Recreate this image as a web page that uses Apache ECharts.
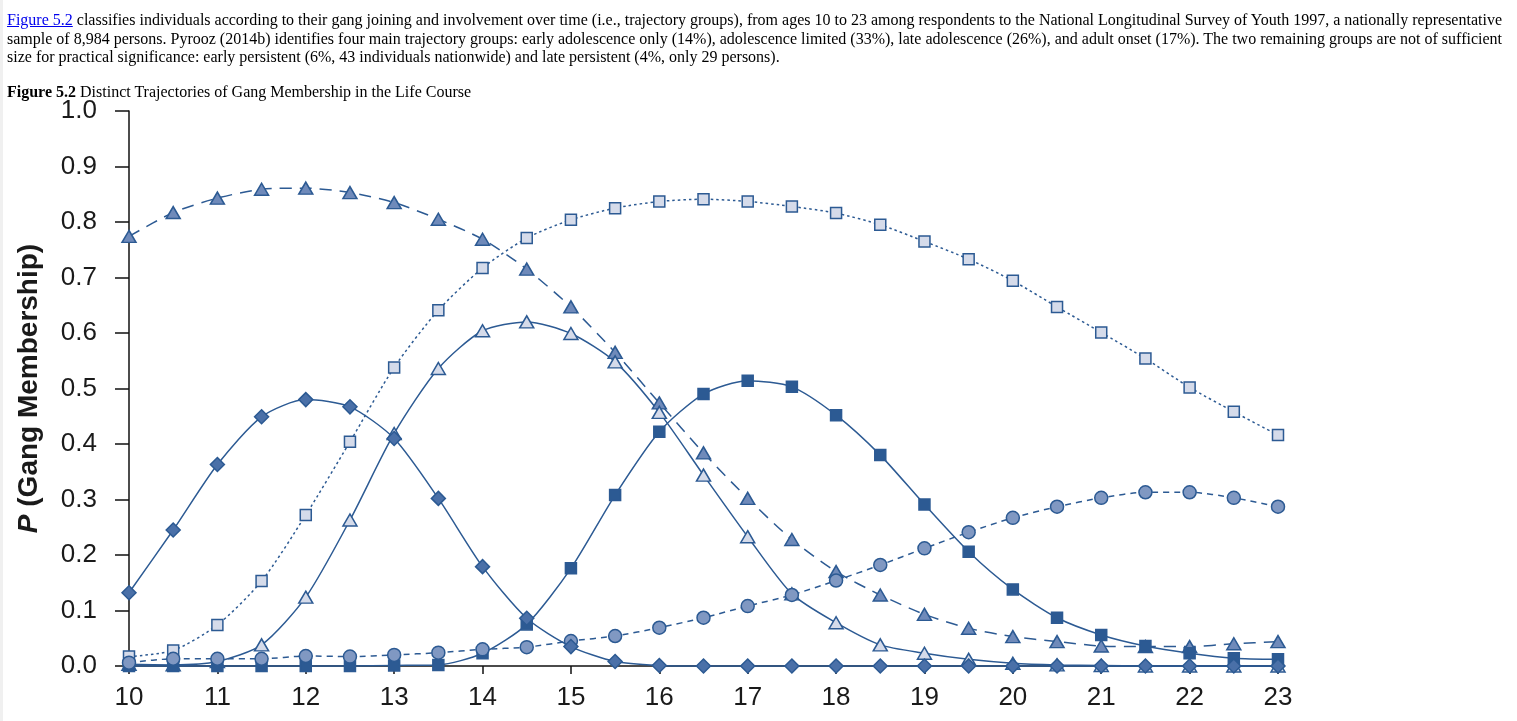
<!DOCTYPE html>
<html>
<head>
<meta charset="utf-8">
<title>Figure 5.2</title>
<script src="https://cdn.jsdelivr.net/npm/echarts@6/dist/echarts.min.js"></script>
<style>
    html, body { margin: 0; padding: 0; background: #fff; }
    body { width: 1517px; height: 721px; overflow: hidden; position: relative; }
    .edge { position: absolute; left: 0; top: 0; width: 3px; height: 721px; background: #f0f0f0; }
    .text { position: absolute; left: 7px; top: 11px; width: 1495px; z-index: 2;
            font-family: "Liberation Serif", "Times New Roman", serif; font-size: 16px; line-height: 18.5px; color: #000; }
    .text .j { text-align: justify; text-align-last: justify; }
    .text a { color: #0000ee; text-decoration: underline; }
    .caption { position: absolute; left: 7px; top: 83px; z-index: 2;
               font-family: "Liberation Serif", "Times New Roman", serif; font-size: 16px; line-height: 18px; color: #000; }
    .chart { position: absolute; left: 0; top: 0; width: 1517px; height: 721px; z-index: 1; }
</style>
</head>
<body>
<div class="edge"></div>
<div class="text">
    <div class="j"><a href="#">Figure 5.2</a> classifies individuals according to their gang joining and involvement over time (i.e., trajectory groups), from ages 10 to 23 among respondents to the National Longitudinal Survey of Youth 1997, a nationally representative</div>
    <div class="j">sample of 8,984 persons. Pyrooz (2014b) identifies four main trajectory groups: early adolescence only (14%), adolescence limited (33%), late adolescence (26%), and adult onset (17%). The two remaining groups are not of sufficient</div>
    <div>size for practical significance: early persistent (6%, 43 individuals nationwide) and late persistent (4%, only 29 persons).</div>
</div>
<div class="caption"><b>Figure 5.2</b> Distinct Trajectories of Gang Membership in the Life Course</div>
<div class="chart"></div>

<script>
// 年龄（横轴）
var ages = [10, 10.5, 11, 11.5, 12, 12.5, 13, 13.5, 14, 14.5, 15, 15.5, 16, 16.5,
    17, 17.5, 18, 18.5, 19, 19.5, 20, 20.5, 21, 21.5, 22, 22.5, 23];

// 纵轴刻度
var yTicks = [0, 0.1, 0.2, 0.3, 0.4, 0.5, 0.6, 0.7, 0.8, 0.9, 1.0];

// 各轨迹组的概率
var earlyPersistent = [0.774, 0.817, 0.843, 0.859, 0.861, 0.853, 0.835, 0.805, 0.769, 0.715, 0.647, 0.565, 0.474, 0.384,
    0.302, 0.228, 0.170, 0.128, 0.093, 0.068, 0.053, 0.044, 0.036, 0.035, 0.035, 0.040, 0.044];
var lateAdolescence = [0.017, 0.028, 0.074, 0.153, 0.272, 0.404, 0.538, 0.641, 0.717, 0.771, 0.804, 0.825, 0.837, 0.841,
    0.837, 0.828, 0.816, 0.795, 0.765, 0.733, 0.694, 0.647, 0.601, 0.554, 0.502, 0.458, 0.416];
var adolescenceLimited = [0.003, 0.002, 0.008, 0.038, 0.124, 0.263, 0.419, 0.536, 0.604, 0.620, 0.599, 0.548, 0.457, 0.344,
    0.233, 0.13, 0.078, 0.038, 0.023, 0.012, 0.005, 0.002, 0.001, 0, 0, 0, 0];
var adultOnset = [0, 0, 0, 0, 0, 0, 0.001, 0.002, 0.023, 0.075, 0.176, 0.308, 0.422, 0.490,
    0.514, 0.503, 0.452, 0.380, 0.291, 0.206, 0.138, 0.087, 0.056, 0.036, 0.023, 0.014, 0.012];
var latePersistent = [0.006, 0.013, 0.013, 0.013, 0.018, 0.017, 0.020, 0.024, 0.030, 0.034, 0.045, 0.054, 0.069, 0.087,
    0.108, 0.128, 0.154, 0.182, 0.212, 0.241, 0.267, 0.287, 0.303, 0.313, 0.313, 0.303, 0.287];
var earlyAdolescence = [0.132, 0.245, 0.363, 0.449, 0.480, 0.467, 0.410, 0.302, 0.179, 0.086, 0.035, 0.008, 0.001, 0,
    0, 0, 0, 0, 0, 0, 0, 0, 0, 0, 0, 0, 0];

var lineColor = '#2c5a93';
var fontFamily = '"Liberation Sans", Arial, Helvetica, sans-serif';

function pairs(values) {
    return ages.map(function (a, i) { return [a, values[i]]; });
}

// 一条轨迹线
function trajectory(name, values, symbol, size, fill, dash) {
    return {
        name: name,
        type: 'line',
        data: pairs(values),
        smooth: 0.25,
        clip: false,
        symbol: symbol,
        symbolSize: size,
        showAllSymbol: true,
        lineStyle: { color: lineColor, width: 1.5, type: dash },
        itemStyle: { color: fill, borderColor: lineColor, borderWidth: 1.5 },
        emphasis: { disabled: true }
    };
}

var myChart = echarts.init(document.querySelector('.chart'));

var option = {
    animation: false,
    backgroundColor: 'transparent',
    textStyle: { fontFamily: fontFamily },
    grid: { left: 129, right: 239, top: 111, bottom: 55, containLabel: false },
    xAxis: {
        type: 'value',
        min: 10,
        max: 23,
        interval: 1,
        axisLine: { show: true, lineStyle: { color: '#111', width: 1.5 } },
        axisTick: { show: true, inside: false, length: 8, lineStyle: { color: '#111', width: 1.5 } },
        axisLabel: { color: '#1a1a1a', fontSize: 26, margin: 19, fontFamily: fontFamily },
        splitLine: { show: false }
    },
    yAxis: {
        type: 'value',
        min: yTicks[0],
        max: yTicks[yTicks.length - 1],
        interval: 0.1,
        name: '{i|P} (Gang Membership)',
        nameLocation: 'middle',
        nameRotate: 90,
        nameGap: 86,
        nameTextStyle: {
            color: '#1a1a1a', fontSize: 28, fontWeight: 'bold', fontFamily: fontFamily,
            rich: { i: { fontSize: 28, fontWeight: 'bold', fontStyle: 'italic', color: '#1a1a1a', fontFamily: fontFamily } }
        },
        axisLine: { show: true, lineStyle: { color: '#111', width: 1.5 } },
        axisTick: { show: true, inside: false, length: 14, lineStyle: { color: '#111', width: 1.5 } },
        axisLabel: {
            color: '#1a1a1a', fontSize: 26, margin: 32, fontFamily: fontFamily,
            formatter: function (v) { return v.toFixed(1); }
        },
        splitLine: { show: false }
    },
    series: [
        trajectory('早期持续', earlyPersistent, 'triangle', [14, 12], '#6f8aba', [12, 8]),
        trajectory('青春期后期', lateAdolescence, 'rect', 11, '#d5dbea', [2.5, 3]),
        trajectory('青春期限定', adolescenceLimited, 'triangle', [14, 12], '#d5dbea', 'solid'),
        trajectory('成年起始', adultOnset, 'rect', 11, '#2c5a93', 'solid'),
        trajectory('后期持续', latePersistent, 'circle', 13, '#8098c2', [6, 5]),
        trajectory('青春期早期', earlyAdolescence, 'diamond', 14, '#4a70a8', 'solid')
    ]
};

myChart.setOption(option);
</script>
</body>
</html>
